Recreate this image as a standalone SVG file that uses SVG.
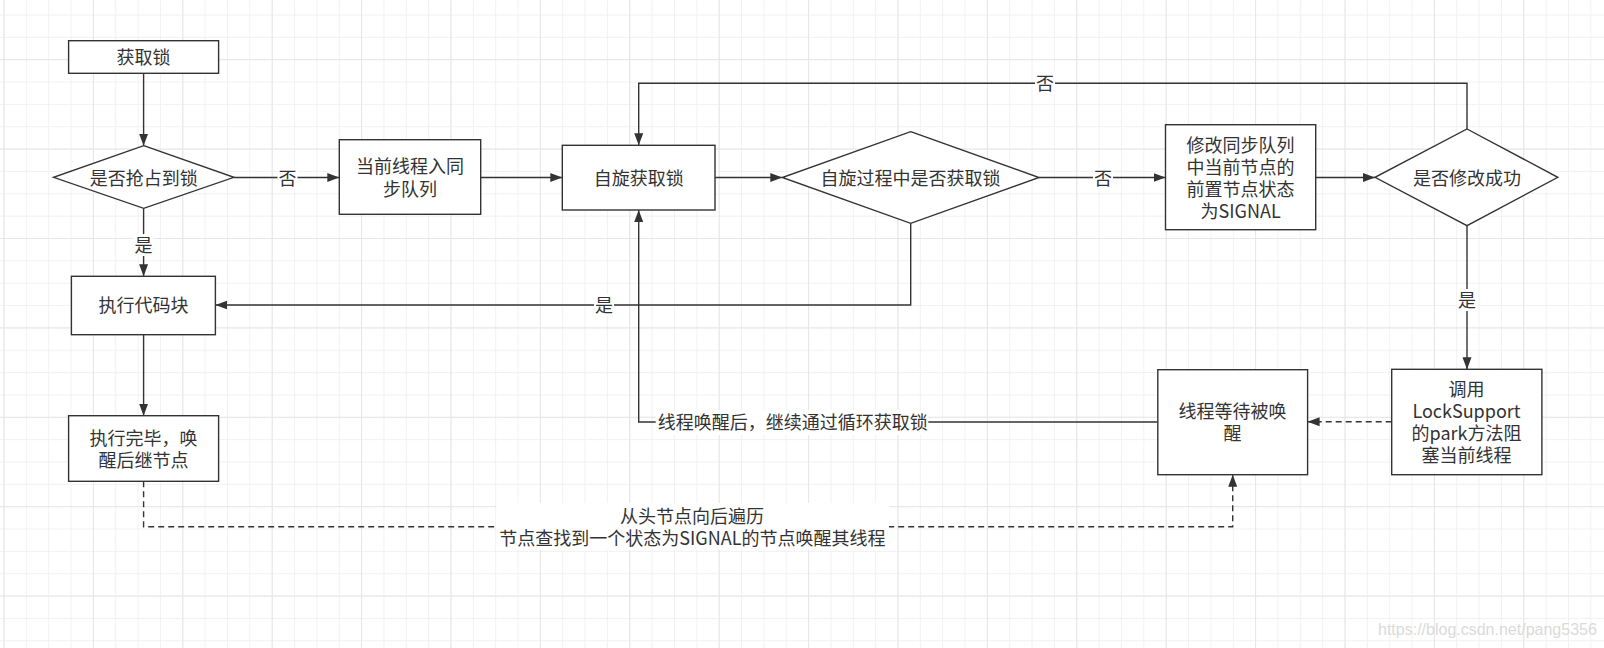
<svg xmlns="http://www.w3.org/2000/svg" width="1604" height="648" viewBox="0 0 1604 648">
<defs>
<pattern id="gmin" width="22.35" height="22.35" patternUnits="userSpaceOnUse" x="3.5" y="14.5">
<path d="M0.5 0V22.35M0 0.5H22.35" stroke="#f1f1f1" stroke-width="1" fill="none"/>
</pattern>
<pattern id="gmaj" width="89.4" height="89.4" patternUnits="userSpaceOnUse" x="3.5" y="59.2">
<path d="M0.5 0V89.4M0 0.5H89.4" stroke="#e6e6e6" stroke-width="1" fill="none"/>
</pattern>
<marker id="arr" markerWidth="13" markerHeight="10" refX="12" refY="5" orient="auto" markerUnits="userSpaceOnUse">
<path d="M0,0.5 L12,5 L0,9.5 Z" fill="#333"/>
</marker>
</defs>
<style>
.node rect, .node polygon { fill: #fff; stroke: #333; stroke-width: 1.4; }
text { font-family: "Noto Sans CJK SC", "Noto Sans", sans-serif; font-size: 18px; fill: #333; text-anchor: middle; }
.edge { fill: none; stroke: #333; stroke-width: 1.4; }
.dash { stroke-dasharray: 6 4; }
.lbl { fill: #fff; stroke: none; }
.wm { font-family: "Liberation Sans", Arial, sans-serif; font-size: 16px; fill: #dadada; text-anchor: start; }
</style>
<rect width="1604" height="648" fill="#fff"/>
<rect width="1604" height="648" fill="url(#gmin)"/>
<rect width="1604" height="648" fill="url(#gmaj)"/>

<g id="connectors">
<path class="edge" d="M143.6 73.3V145.7" marker-end="url(#arr)"/>
<path class="edge" d="M233.9 177.5H339.3" marker-end="url(#arr)"/>
<path class="edge" d="M143.6 208.3V276.3" marker-end="url(#arr)"/>
<path class="edge" d="M480.7 177.5H562.3" marker-end="url(#arr)"/>
<path class="edge" d="M715 177.5H782.3" marker-end="url(#arr)"/>
<path class="edge" d="M1039 177.5H1165.5" marker-end="url(#arr)"/>
<path class="edge" d="M910.7 223.3V305H215.4" marker-end="url(#arr)"/>
<path class="edge" d="M1315.7 177.5H1375" marker-end="url(#arr)"/>
<path class="edge" d="M1467 129V83.3H638.7V145.3" marker-end="url(#arr)"/>
<path class="edge" d="M1467 225.7V369.3" marker-end="url(#arr)"/>
<path class="edge dash" d="M1391.7 421.7H1307.6" marker-end="url(#arr)"/>
<path class="edge" d="M1157.8 422H638.7V210" marker-end="url(#arr)"/>
<path class="edge dash" d="M143.6 481.3V526.7H1232.7V474.7" marker-end="url(#arr)"/>
<path class="edge" d="M143.6 334.7V415.7" marker-end="url(#arr)"/>

<rect class="lbl" x="277.5" y="167" width="20" height="22"/>
<text x="287.5" y="184.5">否</text>
<rect class="lbl" x="133.6" y="234" width="20" height="22"/>
<text x="143.6" y="251.5">是</text>
<rect class="lbl" x="594" y="294" width="20" height="22"/>
<text x="604" y="311.5">是</text>
<rect class="lbl" x="1093" y="167" width="20" height="22"/>
<text x="1103" y="184.8">否</text>
<rect class="lbl" x="1035" y="72" width="20" height="22"/>
<text x="1045" y="89.8">否</text>
<rect class="lbl" x="1457" y="289" width="20" height="22"/>
<text x="1467" y="306.5">是</text>
<rect class="lbl" x="655.7" y="410" width="272.6" height="25"/>
<text x="792.8" y="428.5">线程唤醒后，继续通过循环获取锁</text>
<rect class="lbl" x="496.4" y="503" width="392.6" height="47"/>
<text x="692" y="523.2">从头节点向后遍历</text>
<text x="692.4" y="544.8">节点查找到一个状态为SIGNAL的节点唤醒其线程</text>
</g>

<g id="n-acquire" class="node">
<rect x="68.6" y="40.7" width="150" height="32.6"/>
<text x="143.6" y="63.8">获取锁</text>
</g>
<g id="n-grab" class="node">
<polygon points="143.7,145.7 233.9,177.3 143.7,208.3 53.6,177.3"/>
<text x="143.7" y="184.8">是否抢占到锁</text>
</g>
<g id="n-enqueue" class="node">
<rect x="339.3" y="139.7" width="141.4" height="74.6"/>
<text x="410" y="173.2">当前线程入同</text>
<text x="410" y="195.8">步队列</text>
</g>
<g id="n-exec" class="node">
<rect x="71.4" y="276.3" width="144" height="58.4"/>
<text x="143.4" y="312.2">执行代码块</text>
</g>
<g id="n-spin" class="node">
<rect x="562.3" y="145.3" width="152.7" height="64.7"/>
<text x="638.7" y="184.8">自旋获取锁</text>
</g>
<g id="n-spin-check" class="node">
<polygon points="910.7,131.7 1039,177.5 910.7,223.3 782.3,177.5"/>
<text x="910.6" y="184.8">自旋过程中是否获取锁</text>
</g>
<g id="n-modify" class="node">
<rect x="1165.5" y="124.7" width="150.2" height="105"/>
<text x="1240.6" y="151.5">修改同步队列</text>
<text x="1240.6" y="173.5">中当前节点的</text>
<text x="1240.6" y="195.5">前置节点状态</text>
<text x="1240.6" y="217.5">为SIGNAL</text>
</g>
<g id="n-modify-check" class="node">
<polygon points="1467,129 1557.8,177.3 1467,225.7 1375,177.3"/>
<text x="1467" y="184.8">是否修改成功</text>
</g>
<g id="n-park" class="node">
<rect x="1391.7" y="369.3" width="150.2" height="105.4"/>
<text x="1466.5" y="395.8">调用</text>
<text x="1466.5" y="417.6">LockSupport</text>
<text x="1466.5" y="439.6">的park方法阻</text>
<text x="1466.5" y="461.5">塞当前线程</text>
</g>
<g id="n-wait" class="node">
<rect x="1157.8" y="369.7" width="149.8" height="105"/>
<text x="1232.5" y="418.2">线程等待被唤</text>
<text x="1232.5" y="440">醒</text>
</g>
<g id="n-done" class="node">
<rect x="68.6" y="415.7" width="150" height="65.6"/>
<text x="143.6" y="444.8">执行完毕，唤</text>
<text x="143.6" y="466.5">醒后继节点</text>
</g>

<text class="wm" x="1378" y="635">https://blog.csdn.net/pang5356</text>
</svg>
